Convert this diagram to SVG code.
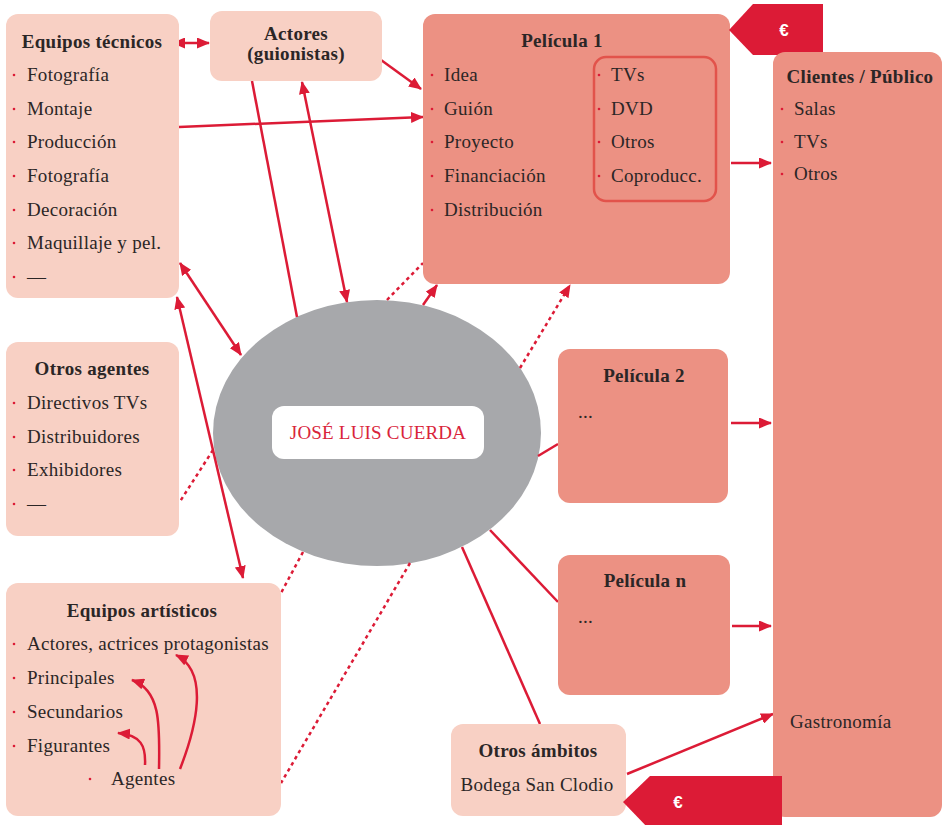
<svg xmlns="http://www.w3.org/2000/svg" width="943" height="825" viewBox="0 0 943 825">
  <style>
    .lt { fill: #f8d0c4; }
    .dk { fill: #ec9183; }
    .tag { fill: #dc1b36; }
    .tx { font-family: 'Liberation Serif', 'DejaVu Serif', serif; font-size: 19px; letter-spacing: 0.3px; fill: #2b2626; }
    .hd { font-weight: bold; text-anchor: middle; }
    .mid { text-anchor: middle; }
    .eur { font-family: 'Liberation Sans', 'DejaVu Sans', sans-serif; font-size: 17px; font-weight: bold; fill: #ffffff; text-anchor: middle; }
    .bl { fill: #dc1b36; }
    .c { stroke: #dc1b36; stroke-width: 2.5; fill: none; }
    .dot { stroke-dasharray: 3.5 3.5; }
    .fine { stroke-dasharray: 2.5 2; stroke-width: 3; }
  </style>
  <defs>
    <marker id="ah" viewBox="0 0 13 11" refX="12" refY="5.5" markerWidth="13" markerHeight="11" markerUnits="userSpaceOnUse" orient="auto-start-reverse">
      <path d="M0,0 L13,5.5 L0,11 z" fill="#dc1b36"/>
    </marker>
  </defs>

  <rect width="943" height="825" fill="#ffffff"/>

  <!-- central figure -->
  <g id="jose-luis-cuerda">
    <ellipse cx="377" cy="433" rx="164" ry="133" fill="#a7a8ab"/>
  </g>

  <!-- connectors -->
  <g id="connectors">
    <line class="c" x1="173" y1="43" x2="209" y2="43" marker-start="url(#ah)" marker-end="url(#ah)"/>
    <line class="c" x1="370" y1="52" x2="421" y2="89" marker-end="url(#ah)"/>
    <line class="c" x1="179" y1="127" x2="423" y2="117" marker-end="url(#ah)"/>
    <line class="c" x1="557" y1="168" x2="590" y2="168" marker-end="url(#ah)"/>
    <line class="c" x1="731" y1="163" x2="771" y2="163" marker-end="url(#ah)"/>
    <line class="c" x1="731" y1="423" x2="771" y2="423" marker-end="url(#ah)"/>
    <line class="c" x1="732" y1="626" x2="771" y2="626" marker-end="url(#ah)"/>
    <line class="c" x1="627" y1="774" x2="773" y2="714" marker-end="url(#ah)"/>
    <line class="c fine" x1="839" y1="210" x2="839" y2="695" marker-start="url(#ah)" marker-end="url(#ah)"/>

    <line class="c" x1="252" y1="81" x2="297" y2="317"/>
    <line class="c" x1="302" y1="82" x2="347" y2="302" marker-start="url(#ah)" marker-end="url(#ah)"/>
    <line class="c" x1="180" y1="263" x2="241" y2="355" marker-start="url(#ah)" marker-end="url(#ah)"/>
    <line class="c" x1="177" y1="297" x2="243" y2="578" marker-start="url(#ah)" marker-end="url(#ah)"/>
    <line class="c" x1="423" y1="305" x2="437" y2="285" marker-end="url(#ah)"/>
    <line class="c dot" x1="387" y1="300" x2="423" y2="263"/>
    <line class="c dot" x1="520" y1="368" x2="570" y2="285" marker-end="url(#ah)"/>
    <line class="c" x1="538" y1="456" x2="558" y2="444"/>
    <line class="c" x1="490" y1="530" x2="558" y2="602"/>
    <line class="c" x1="462" y1="547" x2="540" y2="724"/>
    <line class="c dot" x1="213" y1="450" x2="179" y2="503"/>
    <line class="c dot" x1="303" y1="552" x2="281" y2="593"/>
    <line class="c dot" x1="410" y1="563" x2="281" y2="783"/>
  </g>

  <!-- label inside the central figure -->
  <g id="cuerda-label">
    <rect x="272" y="406" width="212" height="53" rx="12" fill="#ffffff"/>
    <text class="tx mid" x="378" y="439" style="font-size:19px;letter-spacing:0.2px;fill:#d9243a">JOSÉ LUIS CUERDA</text>
  </g>

  <g id="equipos-tecnicos">
    <rect class="lt" x="6" y="14" width="173" height="284" rx="12"/>
    <text class="tx hd" x="92" y="48">Equipos técnicos</text>
    <g class="bl">
      <circle cx="14" cy="75" r="1.3"/><circle cx="14" cy="109" r="1.3"/><circle cx="14" cy="142" r="1.3"/>
      <circle cx="14" cy="176" r="1.3"/><circle cx="14" cy="210" r="1.3"/><circle cx="14" cy="243" r="1.3"/>
      <circle cx="14" cy="277" r="1.3"/>
    </g>
    <text class="tx" x="27" y="81">Fotografía</text>
    <text class="tx" x="27" y="115">Montaje</text>
    <text class="tx" x="27" y="148">Producción</text>
    <text class="tx" x="27" y="182">Fotografía</text>
    <text class="tx" x="27" y="216">Decoración</text>
    <text class="tx" x="27" y="249">Maquillaje y pel.</text>
    <text class="tx" x="27" y="283">—</text>
  </g>

  <g id="actores-guionistas">
    <rect class="lt" x="210" y="11" width="172" height="70" rx="12"/>
    <text class="tx hd" x="296" y="40">Actores</text>
    <text class="tx hd" x="296" y="60">(guionistas)</text>
  </g>

  <g id="pelicula-1">
    <rect class="dk" x="423" y="14" width="307" height="270" rx="12"/>
    <text class="tx hd" x="562" y="47">Película 1</text>
    <g class="bl">
      <circle cx="432" cy="75" r="1.3"/><circle cx="432" cy="109" r="1.3"/><circle cx="432" cy="142" r="1.3"/>
      <circle cx="432" cy="176" r="1.3"/><circle cx="432" cy="210" r="1.3"/>
    </g>
    <text class="tx" x="444" y="81">Idea</text>
    <text class="tx" x="444" y="115">Guión</text>
    <text class="tx" x="444" y="148">Proyecto</text>
    <text class="tx" x="444" y="182">Financiación</text>
    <text class="tx" x="444" y="216">Distribución</text>
    <rect x="594" y="57" width="122" height="144" rx="12" fill="none" stroke="#e2534b" stroke-width="2.5"/>
    <g class="bl">
      <circle cx="599" cy="75" r="1.3"/><circle cx="599" cy="109" r="1.3"/><circle cx="599" cy="142" r="1.3"/>
      <circle cx="599" cy="176" r="1.3"/>
    </g>
    <text class="tx" x="611" y="81">TVs</text>
    <text class="tx" x="611" y="115">DVD</text>
    <text class="tx" x="611" y="148">Otros</text>
    <text class="tx" x="611" y="182">Coproducc.</text>
  </g>

  <g id="euro-top">
    <polygon class="tag" points="729,30 753,4 823,4 823,55 753,55"/>
    <text class="eur" x="784" y="36">€</text>
  </g>

  <g id="clientes-publico">
    <rect class="dk" x="773" y="52" width="169" height="765" rx="12"/>
    <text class="tx hd" x="860" y="83">Clientes / Público</text>
    <g class="bl">
      <circle cx="782" cy="109" r="1.3"/><circle cx="782" cy="142" r="1.3"/><circle cx="782" cy="174" r="1.3"/>
    </g>
    <text class="tx" x="794" y="115">Salas</text>
    <text class="tx" x="794" y="148">TVs</text>
    <text class="tx" x="794" y="180">Otros</text>
    <text class="tx" x="790" y="728">Gastronomía</text>
  </g>

  <g id="otros-agentes">
    <rect class="lt" x="6" y="342" width="173" height="194" rx="12"/>
    <text class="tx hd" x="92" y="375">Otros agentes</text>
    <g class="bl">
      <circle cx="14" cy="403" r="1.3"/><circle cx="14" cy="437" r="1.3"/><circle cx="14" cy="470" r="1.3"/>
      <circle cx="14" cy="504" r="1.3"/>
    </g>
    <text class="tx" x="27" y="409">Directivos TVs</text>
    <text class="tx" x="27" y="443">Distribuidores</text>
    <text class="tx" x="27" y="476">Exhibidores</text>
    <text class="tx" x="27" y="510">—</text>
  </g>

  <g id="pelicula-2">
    <rect class="dk" x="558" y="349" width="170" height="154" rx="12"/>
    <text class="tx hd" x="644" y="382">Película 2</text>
    <text class="tx" x="578" y="418">...</text>
  </g>

  <g id="pelicula-n">
    <rect class="dk" x="558" y="555" width="172" height="140" rx="12"/>
    <text class="tx hd" x="645" y="587">Película n</text>
    <text class="tx" x="578" y="623">...</text>
  </g>

  <g id="equipos-artisticos">
    <rect class="lt" x="6" y="583" width="275" height="233" rx="12"/>
    <text class="tx hd" x="142" y="617">Equipos artísticos</text>
    <g class="bl">
      <circle cx="14" cy="644" r="1.3"/><circle cx="14" cy="678" r="1.3"/><circle cx="14" cy="712" r="1.3"/>
      <circle cx="14" cy="746" r="1.3"/><circle cx="90" cy="779" r="1.3"/>
    </g>
    <text class="tx" x="27" y="650">Actores, actrices protagonistas</text>
    <text class="tx" x="27" y="684">Principales</text>
    <text class="tx" x="27" y="718">Secundarios</text>
    <text class="tx" x="27" y="752">Figurantes</text>
    <text class="tx" x="111" y="785">Agentes</text>
    <path class="c" d="M145,765 C146,746 141,735 118,733" marker-end="url(#ah)"/>
    <path class="c" d="M159,769 C160,722 160,690 132,680" marker-end="url(#ah)"/>
    <path class="c" d="M180,769 C196,728 210,672 176,655" marker-end="url(#ah)"/>
  </g>

  <g id="otros-ambitos">
    <rect class="lt" x="451" y="724" width="175" height="92" rx="12"/>
    <text class="tx hd" x="538" y="757">Otros ámbitos</text>
    <text class="tx mid" x="537" y="791">Bodega San Clodio</text>
  </g>

  <g id="euro-bottom">
    <polygon class="tag" points="623,802 650,776 782,776 782,830 650,830"/>
    <text class="eur" x="678" y="808">€</text>
  </g>
</svg>
